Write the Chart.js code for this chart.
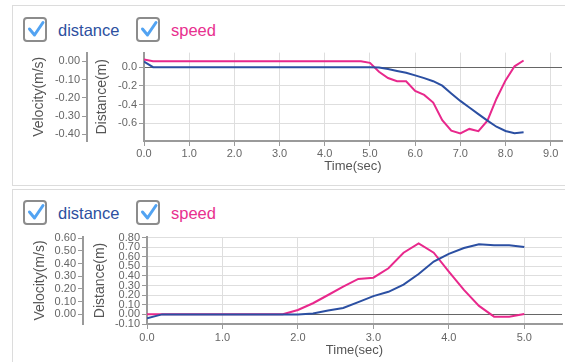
<!DOCTYPE html>
<html>
<head>
<meta charset="utf-8">
<script src="https://cdn.jsdelivr.net/npm/chart.js@4.4.0/dist/chart.umd.min.js"></script>
<style>
  body { margin: 0; background: #fff; width: 565px; height: 362px; overflow: hidden; position: relative;
         font-family: "Liberation Sans", Arial, sans-serif; }
  .panel { position: absolute; left: 12px; width: 600px; border: 1px solid #dcdcdc; }
  #p1 { top: 5px; height: 179px; }
  #p2 { top: 189px; height: 200px; }
  .cb { position: absolute; width: 24px; height: 25px; box-sizing: border-box; border: 2px solid #8c8c8c;
        border-radius: 4px; background: #fff; }
  .cb svg { position: absolute; left: -2px; top: -2px; }
  .lbl { position: absolute; font-size: 16.5px; line-height: 20px; white-space: nowrap; }
  canvas { position: absolute; left: 0; }
</style>
</head>
<body>
<div class="panel" id="p1"></div>
<div class="panel" id="p2"></div>

<div class="cb" style="left:23px; top:17px"><svg width="24" height="25"><path d="M6.5 12 L11.5 18 L20 5.5" fill="none" stroke="#52a3f2" stroke-width="3" stroke-linecap="round" stroke-linejoin="round"/></svg></div>
<div class="lbl" style="left:58px; top:20px; color:#2d50a0">distance</div>
<div class="cb" style="left:136px; top:17px"><svg width="24" height="25"><path d="M6.5 12 L11.5 18 L20 5.5" fill="none" stroke="#52a3f2" stroke-width="3" stroke-linecap="round" stroke-linejoin="round"/></svg></div>
<div class="lbl" style="left:171px; top:20px; color:#e8308f">speed</div>

<div class="cb" style="left:23px; top:200px"><svg width="24" height="25"><path d="M6.5 12 L11.5 18 L20 5.5" fill="none" stroke="#52a3f2" stroke-width="3" stroke-linecap="round" stroke-linejoin="round"/></svg></div>
<div class="lbl" style="left:58px; top:203px; color:#2d50a0">distance</div>
<div class="cb" style="left:136px; top:200px"><svg width="24" height="25"><path d="M6.5 12 L11.5 18 L20 5.5" fill="none" stroke="#52a3f2" stroke-width="3" stroke-linecap="round" stroke-linejoin="round"/></svg></div>
<div class="lbl" style="left:171px; top:203px; color:#e8308f">speed</div>

<canvas id="chartTop" width="565" height="141" style="top:44px"></canvas>
<canvas id="chartBottom" width="565" height="134" style="top:228px"></canvas>

<script>
// upper run
const topTimes = [0.0, 0.2, 0.4, 0.6, 0.8, 1.0, 1.2, 1.4, 1.6, 1.8, 2.0, 2.2, 2.4, 2.6, 2.8, 3.0,
  3.2, 3.4, 3.6, 3.8, 4.0, 4.2, 4.4, 4.6, 4.8, 5.0, 5.2, 5.4, 5.6, 5.8, 6.0, 6.2, 6.4, 6.6, 6.8,
  7.0, 7.2, 7.4, 7.6, 7.8, 8.0, 8.2, 8.4];
const topDistance = [0.06, 0, 0, 0, 0, 0, 0, 0, 0, 0, 0, 0, 0, 0, 0, 0,
  0, 0, 0, 0, 0, 0, 0, 0, 0, 0, -0.005, -0.02, -0.04, -0.06, -0.088, -0.117, -0.15, -0.197, -0.28,
  -0.36, -0.43, -0.5, -0.57, -0.635, -0.68, -0.705, -0.695];
const topSpeed = [0.01, 0, 0, 0, 0, 0, 0, 0, 0, 0, 0, 0, 0, 0, 0, 0,
  0, 0, 0, 0, 0, 0, 0, 0, 0, -0.009, -0.058, -0.092, -0.109, -0.11, -0.163, -0.184, -0.226, -0.322, -0.38,
  -0.395, -0.37, -0.382, -0.325, -0.205, -0.105, -0.028, 0.004];
const topTimeTicks = [0, 1, 2, 3, 4, 5, 6, 7, 8, 9];
const topVelocityTicks = [0, -0.1, -0.2, -0.3, -0.4];
const topDistanceTicks = [0, -0.2, -0.4, -0.6];

// lower run
const bottomTimes = [0.0, 0.2, 0.4, 0.6, 0.8, 1.0, 1.2, 1.4, 1.6, 1.8, 2.0, 2.2, 2.4, 2.6, 2.8, 3.0,
  3.2, 3.4, 3.6, 3.8, 4.0, 4.2, 4.4, 4.6, 4.8, 5.0];
const bottomDistance = [-0.04, 0, 0, 0, 0, 0, 0, 0, 0, 0, 0, 0.01, 0.04, 0.066, 0.128, 0.19,
  0.235, 0.31, 0.42, 0.55, 0.63, 0.69, 0.73, 0.72, 0.72, 0.70];
const bottomSpeed = [0, 0, 0, 0, 0, 0, 0, 0, 0, 0, 0.034, 0.087, 0.152, 0.218, 0.279, 0.289,
  0.363, 0.486, 0.56, 0.486, 0.336, 0.192, 0.066, -0.019, -0.019, 0.002];
const bottomTimeTicks = [0, 1, 2, 3, 4, 5];
const bottomVelocityTicks = [0, 0.1, 0.2, 0.3, 0.4, 0.5, 0.6];
const bottomDistanceTicks = [-0.1, 0, 0.1, 0.2, 0.3, 0.4, 0.5, 0.6, 0.7, 0.8];

const BLUE = '#2b4fa2';
const PINK = '#e8288c';
const AXIS = '#9a9a9a';
const LABEL = '#666';

Chart.defaults.font.family = '"Liberation Sans", Arial, sans-serif';

const points = (xs, ys) => xs.map((x, i) => ({ x: x, y: ys[i] }));
const useTicks = list => scale => { scale.ticks = list.map(v => ({ value: v })); };

function drawRun(canvasId, c) {
  new Chart(document.getElementById(canvasId), {
    type: 'line',
    data: {
      datasets: [
        { label: 'distance', data: points(c.times, c.distance), yAxisID: 'dist',
          borderColor: BLUE, borderWidth: 2, pointRadius: 0, tension: 0 },
        { label: 'speed', data: points(c.times, c.speed), yAxisID: 'vel',
          borderColor: PINK, borderWidth: 2, pointRadius: 0, tension: 0 }
      ]
    },
    options: {
      responsive: false,
      animation: false,
      layout: { padding: c.padding },
      plugins: { legend: { display: false }, tooltip: { enabled: false } },
      scales: {
        x: {
          type: 'linear', min: 0, max: c.xMax,
          afterBuildTicks: useTicks(c.timeTicks),
          afterFit: s => { s.height = c.xHeight; },
          ticks: { callback: v => v.toFixed(1), color: LABEL, font: { size: 11 }, padding: c.xTickPad, maxRotation: 0, autoSkip: false },
          grid: { color: '#dedede', tickColor: AXIS, tickLength: 5 },
          border: { color: AXIS, width: 2 },
          title: { display: true, text: 'Time(sec)', color: '#555', font: { size: 13 }, padding: { top: 0, bottom: c.xTitlePad } }
        },
        vel: {
          position: 'left', weight: 1, min: c.velMin, max: c.velMax,
          afterBuildTicks: useTicks(c.velTicks),
          afterFit: s => { s.width = c.velWidth; },
          ticks: { callback: v => v.toFixed(2), color: LABEL, font: { size: 11 }, padding: 2, autoSkip: false },
          grid: { drawOnChartArea: false, tickColor: AXIS, tickLength: 5 },
          border: { color: AXIS, width: 2 },
          title: { display: true, text: 'Velocity(m/s)', color: '#555', font: { size: 14 }, padding: { top: 4, bottom: 0 } }
        },
        dist: {
          position: 'left', weight: 0, min: c.distMin, max: c.distMax,
          afterBuildTicks: useTicks(c.distTicks),
          afterFit: s => { s.width = c.distWidth; },
          ticks: { callback: v => v.toFixed(c.distDigits), color: LABEL, font: { size: 11 }, padding: 2, autoSkip: false },
          grid: { color: ctx => (ctx.tick && Math.abs(ctx.tick.value) < 1e-9) ? '#666' : '#dedede', tickColor: AXIS, tickLength: 5 },
          border: { color: AXIS, width: 2 },
          title: { display: true, text: 'Distance(m)', color: '#555', font: { size: 14 }, padding: { top: c.distTitlePad, bottom: 0 } }
        }
      }
    }
  });
}

drawRun('chartTop', {
  times: topTimes, distance: topDistance, speed: topSpeed,
  timeTicks: topTimeTicks, velTicks: topVelocityTicks, distTicks: topDistanceTicks,
  xMax: 9.25, velMin: -0.436, velMax: 0.047, distMin: -0.787, distMax: 0.155, distDigits: 1,
  padding: { left: 27, right: 3, top: 8, bottom: 8 },
  xHeight: 36, xTickPad: 1, xTitlePad: 2.5, velWidth: 60, distWidth: 57, distTitlePad: 6.6
});

drawRun('chartBottom', {
  times: bottomTimes, distance: bottomDistance, speed: bottomSpeed,
  timeTicks: bottomTimeTicks, velTicks: bottomVelocityTicks, distTicks: bottomDistanceTicks,
  xMax: 5.5, velMin: -0.077, velMax: 0.61, distMin: -0.1, distMax: 0.805, distDigits: 2,
  padding: { left: 28, right: 3, top: 9, bottom: 0 },
  xHeight: 38, xTickPad: 2, xTitlePad: 4, velWidth: 55, distWidth: 64, distTitlePad: 8.6
});
</script>
</body>
</html>
